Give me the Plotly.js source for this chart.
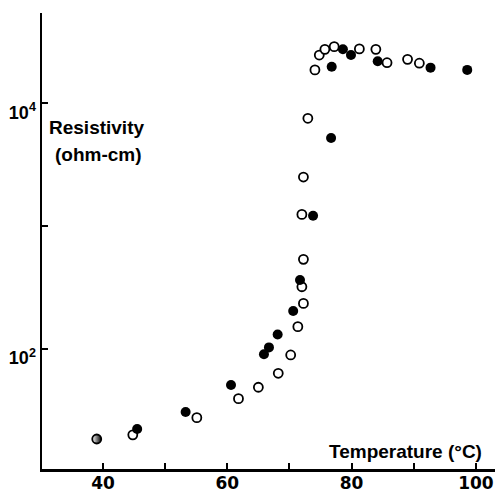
<!DOCTYPE html>
<html>
<head>
<meta charset="utf-8">
<script src="https://cdn.plot.ly/plotly-3.0.1.min.js"></script>
<style>
html,body{margin:0;padding:0;background:#fff;}
#chart{width:495px;height:494px;}
</style>
</head>
<body>
<div id="chart"></div>
<script>
// Open circles
const tempOpen = [39.0, 44.8, 55.1, 61.8, 65.0, 68.2, 70.2, 71.35, 72.25, 72.0, 72.25, 72.0, 72.25, 72.96, 74.1, 74.8, 75.7, 77.2, 81.25, 83.9, 85.7, 89.0, 90.9];
const resOpen  = [18.5, 20.0, 27.6, 39.4, 48.8, 63.4, 89.4, 152, 235, 321, 537, 1245, 2510, 7550, 18700, 24700, 27500, 28900, 27700, 27500, 21400, 22800, 21200];
// Filled circles
const tempFilled = [45.5, 53.3, 60.6, 65.9, 66.7, 68.1, 70.6, 71.7, 73.8, 76.7, 76.8, 78.6, 79.9, 84.2, 92.7, 98.6];
const resFilled  = [22.3, 30.7, 50.9, 90.5, 103, 131, 204, 364, 1214, 5220, 19860, 27500, 24700, 22000, 19500, 18700];
// Tick labels
const xTickVals = [40, 60, 80, 100];
const xTickText = ['40', '60', '80', '100'];
const xMinorVals = [50, 70, 90];
const yTickVals = [100, 10000];
const yTickText = ['10<sup>2</sup>', '10<sup>4</sup>'];
const yMinorVals = [1000];

const gradTypes = tempOpen.map((t, i) => i === 0 ? 'horizontal' : 'none');

const traces = [
  {
    x: tempOpen, y: resOpen, type: 'scatter', mode: 'markers',
    marker: {symbol: 'circle', size: 9, color: '#ffffff',
             line: {color: '#000000', width: 1.8},
             gradient: {type: gradTypes, color: '#000000'}},
    hoverinfo: 'skip', showlegend: false
  },
  {
    x: tempFilled, y: resFilled, type: 'scatter', mode: 'markers',
    marker: {symbol: 'circle', size: 10, color: '#000000',
             line: {color: '#000000', width: 0}},
    hoverinfo: 'skip', showlegend: false
  }
];

const layout = {
  width: 495, height: 494,
  margin: {l: 42, r: 0, t: 13, b: 25, pad: 0},
  paper_bgcolor: '#ffffff', plot_bgcolor: '#ffffff',
  showlegend: false,
  xaxis: {
    range: [30.19, 103.07], showgrid: false, zeroline: false,
    showline: true, linecolor: '#000', linewidth: 2.5,
    ticks: 'inside', ticklen: 6, tickwidth: 2, tickcolor: '#000',
    tickmode: 'array', tickvals: xTickVals, ticktext: xTickText,
    ticklabelstandoff: -3,
    minor: {tickmode: 'array', tickvals: xMinorVals, ticks: 'inside', ticklen: 6, tickwidth: 2, tickcolor: '#000', showgrid: false},
    tickfont: {family: 'DejaVu Sans', size: 17, color: '#000', weight: 'bold'},
    fixedrange: true
  },
  yaxis: {
    type: 'log', range: [1.023, 4.735], showgrid: false, zeroline: false,
    showline: true, linecolor: '#000', linewidth: 2.5,
    ticks: 'inside', ticklen: 6, tickwidth: 2, tickcolor: '#000',
    tickmode: 'array', tickvals: yTickVals, ticktext: yTickText,
    ticklabelshift: 9,
    minor: {tickmode: 'array', tickvals: yMinorVals, ticks: 'inside', ticklen: 6, tickwidth: 2, tickcolor: '#000', showgrid: false},
    tickfont: {family: 'Liberation Sans', size: 18, color: '#000', weight: 'bold'},
    fixedrange: true
  },
  annotations: [
    {text: 'Resistivity', xref: 'paper', yref: 'paper', x: (47-42)/453, y: (469-128)/456,
     xanchor: 'left', yanchor: 'middle', showarrow: false,
     font: {family: 'Liberation Sans', size: 19, color: '#000', weight: 'bold'}},
    {text: '(ohm-cm)', xref: 'paper', yref: 'paper', x: (53-42)/453, y: (469-154)/456,
     xanchor: 'left', yanchor: 'middle', showarrow: false,
     font: {family: 'Liberation Sans', size: 19, color: '#000', weight: 'bold'}},
    {text: 'Temperature (°C)', xref: 'paper', yref: 'paper', x: (327-42)/453, y: (469-451)/456,
     xanchor: 'left', yanchor: 'middle', showarrow: false,
     font: {family: 'Liberation Sans', size: 19, color: '#000', weight: 'bold'}}
  ]
};

Plotly.newPlot('chart', traces, layout, {staticPlot: true, displayModeBar: false});
</script>
</body>
</html>
